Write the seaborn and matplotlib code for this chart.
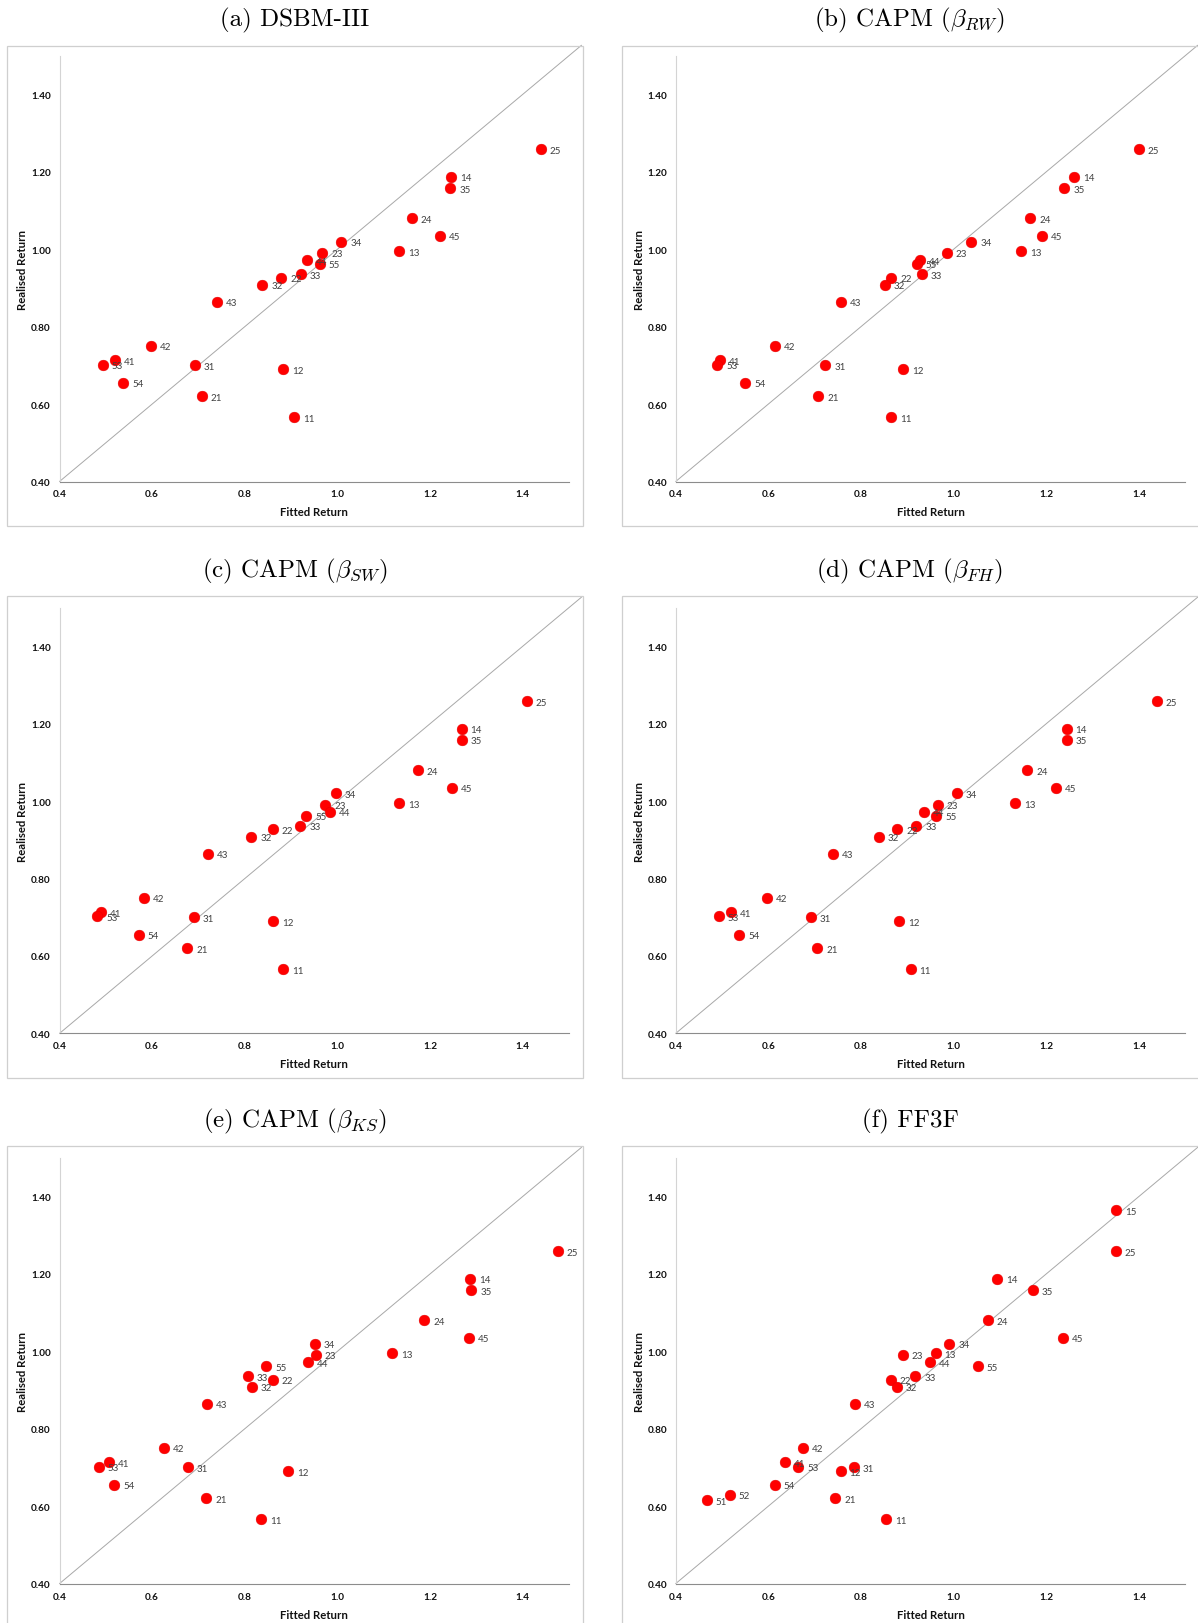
import matplotlib
matplotlib.use("Agg")
import matplotlib.pyplot as plt
import seaborn as sns
import pandas as pd
from matplotlib.patches import Rectangle

# ---------------- data ----------------
portfolios = ["11", "12", "13", "14", "21", "22", "23", "24", "25", "31", "32",
              "33", "34", "35", "41", "42", "43", "44", "45", "53", "54", "55"]
realised = [0.566, 0.690, 0.995, 1.187, 0.620, 0.927, 0.991, 1.080, 1.258, 0.700, 0.908,
            0.936, 1.020, 1.158, 0.713, 0.751, 0.864, 0.972, 1.035, 0.702, 0.655, 0.962]

fitted_dsbm = [0.907, 0.883, 1.133, 1.246, 0.707, 0.879, 0.967, 1.160, 1.439, 0.692, 0.838,
               0.921, 1.008, 1.244, 0.519, 0.598, 0.739, 0.935, 1.221, 0.493, 0.538, 0.962]
fitted_rw = [0.865, 0.891, 1.145, 1.261, 0.708, 0.865, 0.985, 1.165, 1.400, 0.723, 0.851,
             0.931, 1.038, 1.239, 0.496, 0.614, 0.757, 0.927, 1.191, 0.490, 0.550, 0.920]
fitted_sw = [0.883, 0.861, 1.134, 1.268, 0.676, 0.860, 0.974, 1.173, 1.409, 0.690, 0.814,
             0.920, 0.996, 1.269, 0.489, 0.582, 0.721, 0.983, 1.247, 0.482, 0.571, 0.933]
fitted_fh = [0.907, 0.883, 1.132, 1.244, 0.706, 0.878, 0.966, 1.159, 1.439, 0.692, 0.838,
             0.919, 1.007, 1.244, 0.519, 0.597, 0.739, 0.935, 1.220, 0.493, 0.537, 0.962]
fitted_ks = [0.836, 0.893, 1.118, 1.286, 0.717, 0.860, 0.953, 1.188, 1.476, 0.677, 0.815,
             0.807, 0.951, 1.289, 0.507, 0.625, 0.718, 0.937, 1.284, 0.485, 0.518, 0.846]

# FF3F panel shows three extra portfolios
portfolios_ff = portfolios + ["15", "51", "52"]
realised_ff = realised + [1.365, 0.615, 0.629]
fitted_ff3f = [0.854, 0.756, 0.961, 1.094, 0.744, 0.864, 0.890, 1.074, 1.350, 0.784, 0.877,
               0.917, 0.991, 1.171, 0.636, 0.675, 0.787, 0.948, 1.236, 0.664, 0.614, 1.052,
               1.350, 0.467, 0.517]

titles = ["(a) DSBM-III", r"(b) CAPM ($\beta_{RW}$)", r"(c) CAPM ($\beta_{SW}$)",
          r"(d) CAPM ($\beta_{FH}$)", r"(e) CAPM ($\beta_{KS}$)", "(f) FF3F"]
x_ticks = [0.4, 0.6, 0.8, 1.0, 1.2, 1.4]
x_tick_labels = ["0.4", "0.6", "0.8", "1.0", "1.2", "1.4"]
y_ticks = [0.4, 0.6, 0.8, 1.0, 1.2, 1.4]
y_tick_labels = ["0.40", "0.60", "0.80", "1.00", "1.20", "1.40"]

panels = [
    (portfolios, fitted_dsbm, realised),
    (portfolios, fitted_rw, realised),
    (portfolios, fitted_sw, realised),
    (portfolios, fitted_fh, realised),
    (portfolios, fitted_ks, realised),
    (portfolios_ff, fitted_ff3f, realised_ff),
]

# ---------------- style ----------------
sns.set_style("white")
plt.rcParams["font.family"] = ["Lato", "DejaVu Sans"]
plt.rcParams["mathtext.fontset"] = "cm"

W, H = 1198, 1624
fig = plt.figure(figsize=(W / 100, H / 100), dpi=100)

# layout in pixels
col_box = [(7.3, 583.3), (622.3, 1202)]
col_axl = [59.5, 675.7]
col_title_x = [295, 910]
row_box = [(46.7, 527.3), (597.4, 1079.0), (1147.2, 1630)]
row_ax0 = [482.5, 1034.4, 1584.6]  # pixel y of value 0.4
row_title_y = [20.5, 571.6, 1121.4]
ax_w = 509.5
ax_h = 425.8

for i, (labels, fx, ry) in enumerate(panels):
    r, c = divmod(i, 2)
    bx0, bx1 = col_box[c]
    by0, by1 = row_box[r]
    fig.add_artist(Rectangle((bx0 / W, 1 - by1 / H), (bx1 - bx0) / W, (by1 - by0) / H,
                             transform=fig.transFigure, fill=False,
                             edgecolor="#cfcfcf", linewidth=0.9))
    fig.text(col_title_x[c] / W, 1 - row_title_y[r] / H, titles[i],
             fontfamily="cmr10", fontsize=18, ha="center", va="center", color="black")

    ax = fig.add_axes([col_axl[c] / W, 1 - row_ax0[r] / H, ax_w / W, ax_h / H])
    ax.set_facecolor("none")
    df = pd.DataFrame({"Fitted Return": fx, "Realised Return": ry, "label": labels})

    ax.plot([0.4, 1.527], [0.4, 1.527], color="#a8a8a8", linewidth=0.7,
            clip_on=False, zorder=1)
    sns.scatterplot(data=df, x="Fitted Return", y="Realised Return", ax=ax,
                    color="#ff0000", s=60, edgecolor="#e00000", linewidth=0.3,
                    zorder=3, clip_on=False)
    for _, row in df.iterrows():
        ax.annotate(row["label"], (row["Fitted Return"], row["Realised Return"]),
                    xytext=(9, -1), textcoords="offset pixels", fontsize=7,
                    color="#404040", ha="left", va="center", zorder=4,
                    annotation_clip=False)

    ax.set_xlim(0.4, 1.5)
    ax.set_ylim(0.4, 1.5)
    ax.set_xticks(x_ticks)
    ax.set_xticklabels(x_tick_labels)
    ax.set_yticks(y_ticks)
    ax.set_yticklabels(y_tick_labels)
    for s in ["top", "right"]:
        ax.spines[s].set_visible(False)
    ax.spines["left"].set_color("#d4d4d4")
    ax.spines["left"].set_linewidth(0.8)
    ax.spines["bottom"].set_color("#8c8c8c")
    ax.spines["bottom"].set_linewidth(0.8)
    ax.tick_params(axis="x", direction="out", length=2.5, width=0.7, color="#8c8c8c",
                   pad=3.2, labelsize=7.2, labelcolor="#111111")
    ax.tick_params(axis="y", direction="out", length=2.5, width=0.7, color="#d4d4d4",
                   pad=3.8, labelsize=7.2, labelcolor="#111111")
    for t in ax.get_xticklabels() + ax.get_yticklabels():
        t.set_fontweight("bold")
    ax.set_xlabel("Fitted Return", fontsize=8.2, fontweight="bold", color="#111111")
    ax.set_ylabel("Realised Return", fontsize=8.2, fontweight="bold", color="#111111")
    ax.xaxis.set_label_coords(0.5, -25 / ax_h)
    ax.yaxis.set_label_coords(-31 / ax_w, 0.5)
    ax.grid(False)

fig.savefig("out.png", dpi=100)
